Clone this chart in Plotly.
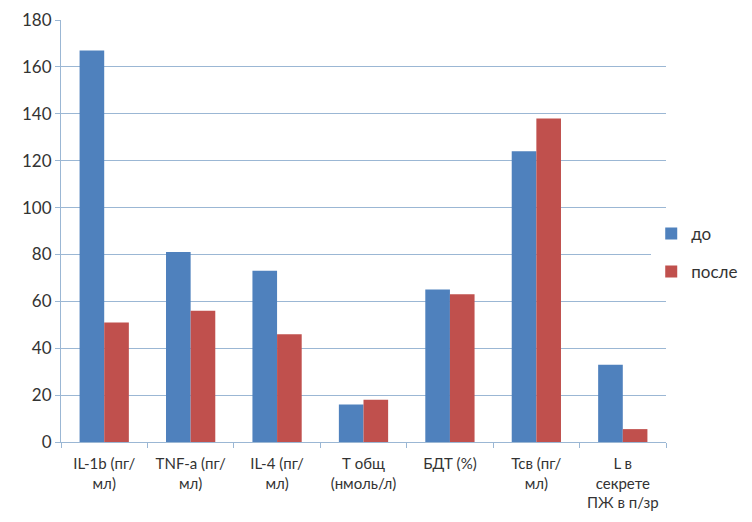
import plotly.graph_objects as go

categories = [
    "IL-1b (пг/<br>мл)",
    "TNF-a (пг/<br>мл)",
    "IL-4 (пг/<br>мл)",
    "Т общ<br>(нмоль/л)",
    "БДТ (%)",
    "Тсв (пг/<br>мл)",
    "L в<br>секрете<br>ПЖ в п/зр",
]
before = [167, 81, 73, 16, 65, 124, 33]
after = [51, 56, 46, 18, 63, 138, 5.5]

series_names = ["до", "после"]
colors = ["#4F81BD", "#C0504D"]

fig = go.Figure()
for name, vals, col in zip(series_names, [before, after], colors):
    fig.add_trace(go.Bar(x=categories, y=vals, name=name, marker_color=col,
                         marker_line_width=0, legendgroup=name))

grid_col = "#9BB7D4"
font_col = "#333333"
fig.update_layout(
    width=752, height=522,
    margin=dict(l=61, r=86, t=20, b=80, autoexpand=False),
    paper_bgcolor="white", plot_bgcolor="white",
    barmode="group", bargap=0.43, bargroupgap=0,
    font=dict(family="Lato, Open Sans, sans-serif", size=16, color=font_col),
    showlegend=True,
    legend=dict(xref="container", x=0.866, y=0.448, xanchor="left", yanchor="middle",
                font=dict(size=17), itemwidth=30, tracegroupgap=13),
    xaxis=dict(showline=True, linecolor=grid_col, linewidth=1,
               tickson="boundaries", ticks="outside", ticklen=5, tickcolor=grid_col,
               tickfont=dict(size=15), tickangle=0, ticklabelstandoff=8,
               showgrid=False),
    yaxis=dict(range=[0, 180], dtick=20, showline=True, linecolor=grid_col,
               gridcolor=grid_col, gridwidth=1, ticks="outside", ticklen=5,
               tickcolor=grid_col, tickfont=dict(size=17), zeroline=False),
)
fig.write_html("out.html")
